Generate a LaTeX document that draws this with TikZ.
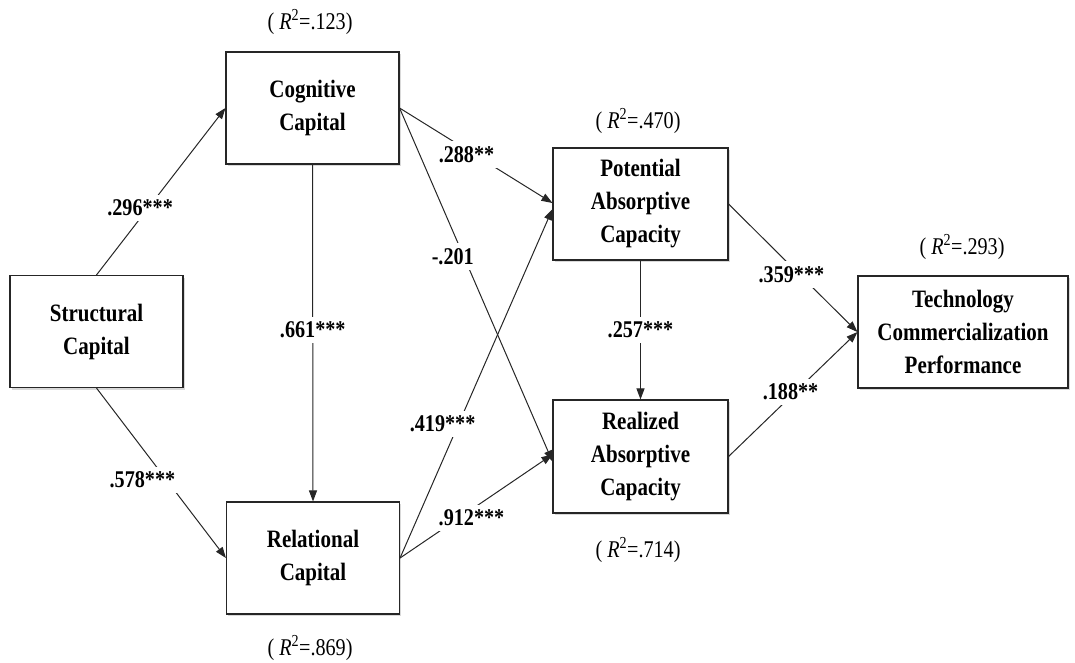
\documentclass[tikz,border=0pt]{standalone}
\usepackage{fontspec}
\setmainfont{Liberation Serif}[FakeStretch=0.84]
\usetikzlibrary{arrows.meta, shadows}

\begin{document}
\begin{tikzpicture}[x=1pt, y=-1pt,
  box/.style={draw=black!85, line width=1.1pt, fill=white, align=center,
    inner sep=0pt, minimum width=173pt, minimum height=112pt,
    font=\bfseries\fontsize{25}{33}\selectfont,
    drop shadow={shadow xshift=1.5pt, shadow yshift=-2pt, opacity=0.3}},
  rsq/.style={font=\fontsize{24}{26}\selectfont, inner sep=0pt},
  lbl/.style={fill=white, inner sep=5pt, font=\bfseries\fontsize{24}{26}\selectfont},
  arr/.style={draw=black!85, line width=1pt, -{Triangle[length=11pt, width=8pt]}}]
\useasboundingbox (0,0) rectangle (1075,662);

% constructs
\node[box] (sc) at (96.5,331.5) {Structural\\Capital};
\node[box] (cc) at (312.5,108) {Cognitive\\Capital};
\node[box] (rc) at (313,558) {Relational\\Capital};
\node[box, minimum width=175pt] (pa) at (640.5,204) {Potential\\Absorptive\\Capacity};
\node[box, minimum width=175pt, minimum height=113pt] (ra) at (640.5,456.5) {Realized\\Absorptive\\Capacity};
\node[box, minimum width=210pt] (tc) at (963,332) {Technology\\Commercialization\\Performance};

% explained variance
\node[rsq] (r2cc) at (310,22) {( \textit{R}\textsuperscript{2}=.123)};
\node[rsq] (r2rc) at (310,648) {( \textit{R}\textsuperscript{2}=.869)};
\node[rsq] (r2pa) at (638,121) {( \textit{R}\textsuperscript{2}=.470)};
\node[rsq] (r2ra) at (638,550) {( \textit{R}\textsuperscript{2}=.714)};
\node[rsq] (r2tc) at (962,247) {( \textit{R}\textsuperscript{2}=.293)};

% paths
\draw[arr] (sc.north) -- node[lbl, pos=.40, xshift=-8pt] {.296***} (cc.west);
\draw[arr] (sc.south) -- node[lbl, pos=.54, xshift=-24pt] {.578***} (rc.west);
\draw[arr] (cc.south) -- node[lbl, pos=.49] {.661***} (rc.north);
\draw[arr] (cc.east) -- node[lbl, pos=.49, xshift=-8pt] {.288**} ([yshift=1pt]pa.west);
\draw[arr] (cc.east) -- node[lbl, pos=.42, xshift=-11pt] {-.201} ([yshift=-5pt]ra.west);
\draw[arr] (rc.east) -- node[lbl, pos=.384, xshift=-16pt] {.419***} ([yshift=-5pt]pa.west);
\draw[arr] (rc.east) -- node[lbl, pos=.39, xshift=12pt] {.912***} ([yshift=2pt]ra.west);
\draw[arr] (pa.south) -- node[lbl, pos=.5] {.257***} (ra.north);
\draw[arr] (pa.east) -- node[lbl, pos=.55, xshift=-8pt] {.359***} (tc.west);
\draw[arr] (ra.east) -- node[lbl, pos=.52, xshift=-5pt] {.188**} (tc.west);
\end{tikzpicture}
\end{document}
